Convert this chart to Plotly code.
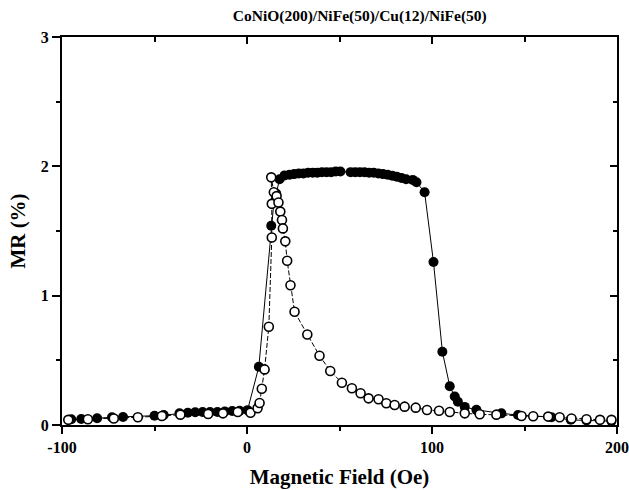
import plotly.graph_objects as go

# Filled circles (one sweep direction)
filled_x = [-95, -89.6, -81, -73, -67, -50, -45, -36.5, -32, -28, -24, -20, -16, -12, -8, -4,
            0.3, 6.4, 13.1, 14.5, 15.8, 17.6, 20.3, 23, 25.5, 28, 30.5, 33, 35.5, 38, 40.5, 43,
            45.5, 48, 50.5, 56, 58.5, 61, 63.5, 66, 68.5, 71, 73.5, 76, 78.5, 81, 83.5, 86,
            89.6, 91.6, 96, 100.8, 105.6, 109.6, 112.3, 114, 117.7, 124, 137.5, 146.5, 164.6,
            175, 183.5, 197]
filled_y = [0.045, 0.046, 0.052, 0.06, 0.062, 0.072, 0.077, 0.09, 0.095, 0.098, 0.1, 0.1, 0.1,
            0.105, 0.108, 0.11, 0.115, 0.45, 1.54, 1.72, 1.79, 1.90, 1.93, 1.935, 1.94, 1.945,
            1.945, 1.95, 1.95, 1.95, 1.955, 1.955, 1.955, 1.96, 1.96, 1.955, 1.955, 1.955,
            1.955, 1.95, 1.95, 1.945, 1.94, 1.935, 1.928, 1.92, 1.91, 1.90, 1.895, 1.877,
            1.80, 1.26, 0.567, 0.30, 0.22, 0.18, 0.14, 0.117, 0.09, 0.077, 0.06, 0.04, 0.035,
            0.03]

# Open circles (other sweep direction)
open_x = [-96.6, -86, -72, -59, -46, -36, -21, -13, -5, 1.9, 5.7, 6.8, 8, 9.5, 11.8, 13.4,
          13.4, 13.1, 14.5, 16, 17, 18, 18.9, 19.4, 20.7, 21.7, 23.5, 25.7, 32.6, 39.2, 45,
          51.3, 56.7, 61.4, 65.7, 71.1, 75.3, 79.8, 85.2, 91.2, 97.3, 103.8, 109.6, 117.7,
          125.8, 134.8, 148.4, 154.7, 162.8, 169, 175.4, 183.5, 190.8, 197]
open_y = [0.04, 0.045, 0.05, 0.06, 0.07, 0.08, 0.085, 0.09, 0.1, 0.095, 0.13, 0.17, 0.28, 0.43,
          0.76, 1.45, 1.71, 1.915, 1.80, 1.77, 1.72, 1.65, 1.585, 1.52, 1.42, 1.27, 1.08,
          0.876, 0.70, 0.536, 0.418, 0.327, 0.284, 0.245, 0.206, 0.199, 0.168, 0.155, 0.142,
          0.134, 0.116, 0.11, 0.10, 0.09, 0.083, 0.08, 0.07, 0.068, 0.065, 0.06, 0.05, 0.045,
          0.04, 0.04]

title_text = "CoNiO(200)/NiFe(50)/Cu(12)/NiFe(50)"
x_title = "Magnetic Field (Oe)"
y_title = "MR (%)"

FONT = "Liberation Serif"

fig = go.Figure()
fig.add_trace(go.Scatter(
    x=filled_x, y=filled_y, mode="lines+markers",
    line=dict(color="black", width=1),
    marker=dict(symbol="circle", size=10, color="black", line=dict(color="black", width=0)),
    showlegend=False, cliponaxis=False))
fig.add_trace(go.Scatter(
    x=open_x, y=open_y, mode="lines+markers",
    line=dict(color="black", width=1, dash="5px,2px"),
    marker=dict(symbol="circle", size=9, color="white", line=dict(color="black", width=1.6)),
    showlegend=False, cliponaxis=False))

axis_common = dict(showgrid=False, zeroline=False, showline=True, linecolor="black",
                   linewidth=2, tickcolor="black", tickwidth=2, automargin=False)

fig.update_layout(
    width=629, height=490,
    margin=dict(l=62, r=12, t=37, b=65),
    paper_bgcolor="white", plot_bgcolor="white",
    title=dict(text=title_text, x=0.572, xanchor="center", y=0.968, yanchor="middle",
               font=dict(family=FONT, size=15.5, color="black", weight="bold")),
    xaxis=dict(range=[-100, 200], tickmode="array", tickvals=[-100, 0, 100, 200],
               ticktext=["-100", "0", "100", "200"], ticks="outside", ticklen=7,
               minor=dict(tickvals=[-50, 50, 150], ticks="outside", ticklen=4,
                          tickcolor="black", tickwidth=1.5),
               tickfont=dict(family=FONT, size=16, color="black", weight="bold"),
               title=dict(text=x_title, standoff=14,
                          font=dict(family=FONT, size=21, color="black", weight="bold")),
               **axis_common),
    yaxis=dict(range=[0, 3], tickmode="array", tickvals=[0, 1, 2, 3],
               ticktext=["0", "1", "2", "3"], ticks="outside", ticklen=8,
               minor=dict(tickvals=[0.5, 1.5, 2.5], ticks="outside", ticklen=4,
                          tickcolor="black", tickwidth=1.5),
               tickfont=dict(family=FONT, size=16, color="black", weight="bold"),
               title=dict(text=y_title, standoff=9,
                          font=dict(family=FONT, size=21, color="black", weight="bold")),
               **axis_common),
    xaxis2=dict(overlaying="x", side="top", matches="x", range=[-100, 200],
                tickmode="array", tickvals=[-100, 0, 100, 200], showticklabels=False,
                ticks="inside", ticklen=7,
                minor=dict(tickvals=[-50, 50, 150], ticks="inside", ticklen=5,
                           tickcolor="black", tickwidth=1.5),
                **axis_common),
    yaxis2=dict(overlaying="y", side="right", matches="y", range=[0, 3],
                tickmode="array", tickvals=[0, 1, 2, 3], showticklabels=False,
                ticks="inside", ticklen=7,
                minor=dict(tickvals=[0.5, 1.5, 2.5], ticks="inside", ticklen=4,
                           tickcolor="black", tickwidth=1.5),
                **axis_common),
)
# dummy invisible trace to activate overlay axes
fig.add_trace(go.Scatter(x=[-100], y=[0], xaxis="x2", yaxis="y2", mode="markers",
                         marker=dict(opacity=0), showlegend=False, hoverinfo="skip"))

fig.write_html("out.html", config={"displayModeBar": False},
               post_script="document.body.style.margin='0';document.body.style.overflow='hidden';")
